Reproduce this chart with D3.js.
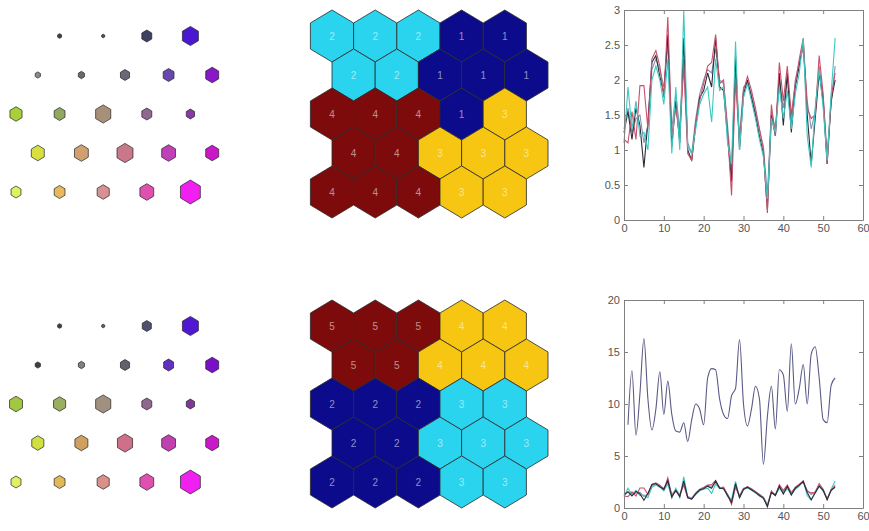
<!DOCTYPE html>
<html>
<head>
<meta charset="utf-8">
<script src="https://cdn.jsdelivr.net/npm/d3@7"></script>
<style>
body { margin: 0; background: #fff; }
svg text { font-family: "Liberation Sans", Arial, sans-serif; }
</style>
</head>
<body>
<svg id="fig" width="869" height="531"></svg>
<script>
// ---- data ----

// component plane marker size (fraction of a full hex) and colour, 5 rows x 5 cols
var planeSizeTop = [
    [0, 0.09, 0.07, 0.23, 0.37],
    [0.12, 0.14, 0.21, 0.25, 0.30],
    [0.28, 0.25, 0.35, 0.23, 0.19],
    [0.30, 0.32, 0.37, 0.32, 0.30],
    [0.23, 0.25, 0.28, 0.32, 0.46]
];
var planeColorTop = [
    ["#ffffff", "#404048", "#505058", "#404060", "#4a18d0"],
    ["#8a8a90", "#6a6a70", "#6a6878", "#6848b0", "#8818c8"],
    ["#a8d038", "#90a860", "#a89078", "#906890", "#8838a8"],
    ["#d8e040", "#d0a070", "#c87888", "#c040b8", "#c818c8"],
    ["#e0f060", "#e8b860", "#d89090", "#e050b0", "#f020f0"]
];
var planeSizeBottom = [
    [0, 0.09, 0.07, 0.21, 0.37],
    [0.12, 0.14, 0.21, 0.23, 0.30],
    [0.30, 0.28, 0.35, 0.23, 0.19],
    [0.28, 0.30, 0.35, 0.32, 0.30],
    [0.23, 0.25, 0.28, 0.32, 0.46]
];
var planeColorBottom = [
    ["#ffffff", "#404048", "#606068", "#505070", "#5018d0"],
    ["#404040", "#808088", "#606070", "#6030c0", "#7810c8"],
    ["#a0c840", "#98b060", "#a09080", "#906890", "#803898"],
    ["#d0e040", "#d0a060", "#d07088", "#c040b0", "#c818c8"],
    ["#e0f060", "#e0b858", "#d89088", "#e050b0", "#f020f0"]
];

// cluster label of each map unit
var clusterTop = [
    [2, 2, 2, 1, 1],
    [2, 2, 1, 1, 1],
    [4, 4, 4, 1, 3],
    [4, 4, 3, 3, 3],
    [4, 4, 4, 3, 3]
];
var clusterBottom = [
    [5, 5, 5, 4, 4],
    [5, 5, 4, 4, 4],
    [2, 2, 2, 3, 3],
    [2, 2, 3, 3, 3],
    [2, 2, 2, 3, 3]
];
var clusterColorTop = {1: "#0b0b8c", 2: "#2ad4ee", 3: "#f6c612", 4: "#7d0b0b"};
var clusterColorBottom = {2: "#0b0b8c", 3: "#2ad4ee", 4: "#f6c612", 5: "#7d0b0b"};

// profile lines, one value per sample (samples 0..53)
var seriesRed = [1.15,1.1,1.55,1.15,1.92,1.92,1.3,2.3,2.42,2.2,1.75,2.9,1.2,1.6,1.2,2.2,0.95,0.85,1.4,1.7,1.95,2.2,2.25,2.65,1.95,2.0,1.25,0.35,2.0,1.1,1.85,2.05,1.85,1.6,1.3,1.0,0.1,1.65,1.2,2.25,1.7,2.2,1.5,1.95,2.3,2.6,1.6,1.45,1.5,2.35,1.8,0.8,1.75,2.1];
var seriesBlack = [1.25,1.55,1.15,1.6,1.35,0.75,1.4,2.25,2.35,2.05,1.8,2.65,1.05,1.7,1.1,2.6,1.0,0.85,1.35,1.75,1.85,2.1,1.9,2.6,1.9,1.85,1.2,0.55,2.35,1.0,1.8,2.0,1.75,1.5,1.2,0.95,0.15,1.5,1.2,2.1,1.35,2.1,1.25,1.9,2.2,2.55,1.5,0.8,1.45,2.1,1.7,0.8,1.7,2.0];
var seriesCyan = [1.1,1.9,1.3,1.7,1.2,1.25,1.0,2.0,2.2,2.0,1.65,2.3,0.95,1.9,1.0,3.0,1.05,0.95,1.3,1.65,1.8,1.9,1.4,2.3,1.85,1.9,1.1,0.8,2.55,1.0,1.75,1.95,1.7,1.45,1.15,0.9,0.3,1.45,1.25,1.9,1.45,1.85,1.3,1.8,2.1,2.6,1.2,0.75,1.6,2.15,1.6,0.85,1.8,2.6];
var seriesGray = [1.3,1.6,1.25,1.45,1.5,1.1,1.35,2.15,2.3,2.15,1.9,2.5,1.3,1.8,1.3,2.3,1.1,0.95,1.45,1.8,2.0,2.15,2.1,2.45,2.0,1.95,1.35,0.7,2.1,1.2,1.9,1.95,1.8,1.55,1.3,1.05,0.35,1.55,1.3,2.0,1.6,2.05,1.4,2.0,2.25,2.45,1.7,1.3,1.55,2.2,1.75,0.95,1.65,2.2];
// extra variable in the second run (samples 1..53)
var seriesBig = [8.0,13.2,7.0,11.0,16.3,10.5,7.5,9.5,13.1,9.0,12.2,9.0,7.4,7.3,8.2,6.4,8.5,10.0,9.5,8.0,12.5,13.4,13.3,10.5,9.0,8.6,10.8,11.5,16.2,10.0,7.9,9.5,11.7,10.5,4.2,8.8,11.7,7.6,13.3,12.8,9.3,15.8,10.0,11.5,13.8,10.0,14.8,15.5,12.5,8.5,8.2,11.8,12.5];

var xTicks = [0, 10, 20, 30, 40, 50, 60];
var yTicksTop = [0, 0.5, 1, 1.5, 2, 2.5, 3];
var yTicksBottom = [0, 5, 10, 15, 20];

// ---- drawing ----
var svg = d3.select("#fig");
var hexW = 43.2, hexR = 26;

function hexPath(cx, cy, s) {
    var a = hexW / 2 * s, r = hexR * s;
    var pts = [[cx, cy - r], [cx + a, cy - r / 2], [cx + a, cy + r / 2],
               [cx, cy + r], [cx - a, cy + r / 2], [cx - a, cy - r / 2]];
    return "M" + pts.join("L") + "Z";
}

function flatten(grid) {
    var out = [];
    grid.forEach(function(row, r) {
        row.forEach(function(v, c) { out.push({row: r, col: c, v: v}); });
    });
    return out;
}

function drawPlane(g, sizes, colors, x, y) {
    var cells = flatten(sizes);
    g.selectAll("path").data(cells.filter(function(d) { return d.v > 0; }))
        .enter().append("path")
        .attr("d", function(d) {
            return hexPath(x(d.col + (d.row % 2) * 0.5), y(d.row), d.v);
        })
        .attr("fill", function(d) { return colors[d.row][d.col]; })
        .attr("stroke", "#222")
        .attr("stroke-width", 0.7);
}

function drawClusters(g, labels, colorOf, x, y) {
    var cells = flatten(labels);
    g.selectAll("path").data(cells).enter().append("path")
        .attr("d", function(d) {
            return hexPath(x(d.col + (d.row % 2) * 0.5), y(d.row), 1);
        })
        .attr("fill", function(d) { return colorOf[d.v]; })
        .attr("stroke", "#2a2a2a")
        .attr("stroke-width", 0.8);
    g.selectAll("text").data(cells).enter().append("text")
        .attr("x", function(d) { return x(d.col + (d.row % 2) * 0.5); })
        .attr("y", function(d) { return y(d.row) + 4; })
        .attr("text-anchor", "middle")
        .attr("font-size", 10)
        .attr("fill", "#ffffff")
        .attr("fill-opacity", 0.55)
        .text(function(d) { return d.v; });
}

function drawProfile(g, yDomain, yRange, yTicks, lines) {
    var x = d3.scaleLinear().domain([0, 60]).range([624, 863]);
    var y = d3.scaleLinear().domain(yDomain).range(yRange);

    lines.forEach(function(l) {
        var line = d3.line()
            .x(function(d) { return x(d.x); })
            .y(function(d) { return y(d.y); })
            .curve(l.smooth ? d3.curveMonotoneX : d3.curveLinear);
        var pts = l.values.map(function(v, i) { return {x: i + l.start, y: v}; });
        g.append("path").datum(pts)
            .attr("d", line)
            .attr("fill", "none")
            .attr("stroke", l.color)
            .attr("stroke-width", 1.1);
    });

    var fmt = function(d) { return String(d); };
    var axes = [
        g.append("g").attr("transform", "translate(0," + yRange[0] + ")")
            .call(d3.axisBottom(x).tickValues(xTicks).tickSize(-4).tickSizeOuter(0).tickPadding(4).tickFormat(fmt)),
        g.append("g").attr("transform", "translate(0," + yRange[1] + ")")
            .call(d3.axisTop(x).tickValues(xTicks).tickSize(-4).tickSizeOuter(0).tickFormat("")),
        g.append("g").attr("transform", "translate(624,0)")
            .call(d3.axisLeft(y).tickValues(yTicks).tickSize(-4).tickSizeOuter(0).tickPadding(4).tickFormat(fmt)),
        g.append("g").attr("transform", "translate(863,0)")
            .call(d3.axisRight(y).tickValues(yTicks).tickSize(-4).tickSizeOuter(0).tickFormat(""))
    ];
    axes.forEach(function(a) {
        a.selectAll("path,line").attr("stroke", "#808080");
        a.selectAll("text").attr("fill", "#555").attr("font-size", 11)
            .style("font-family", "'Liberation Sans', Arial, sans-serif");
    });
}

var colLeft = d3.scaleLinear().domain([0, 1]).range([16, 59.6]);
var colHex = d3.scaleLinear().domain([0, 1]).range([332, 375.2]);
var rowTop = d3.scaleLinear().domain([0, 1]).range([36, 75]);
var rowBottom = d3.scaleLinear().domain([0, 1]).range([326, 365]);

drawPlane(svg.append("g"), planeSizeTop, planeColorTop, colLeft, rowTop);
drawPlane(svg.append("g"), planeSizeBottom, planeColorBottom, colLeft, rowBottom);
drawClusters(svg.append("g"), clusterTop, clusterColorTop, colHex, rowTop);
drawClusters(svg.append("g"), clusterBottom, clusterColorBottom, colHex, rowBottom);

drawProfile(svg.append("g"), [0, 3], [220, 10], yTicksTop, [
    {values: seriesGray, start: 0, color: "#8890b0"},
    {values: seriesBlack, start: 0, color: "#2a2a38"},
    {values: seriesRed, start: 0, color: "#c8506a"},
    {values: seriesCyan, start: 0, color: "#3cc8c0"}
]);
drawProfile(svg.append("g"), [0, 20], [508, 300], yTicksBottom, [
    {values: seriesBig, start: 1, color: "#5a5a86", smooth: true},
    {values: seriesGray, start: 0, color: "#8890b0"},
    {values: seriesCyan, start: 0, color: "#3cc8c0"},
    {values: seriesRed, start: 0, color: "#c8506a"},
    {values: seriesBlack, start: 0, color: "#2a2a38"}
]);
</script>
</body>
</html>
